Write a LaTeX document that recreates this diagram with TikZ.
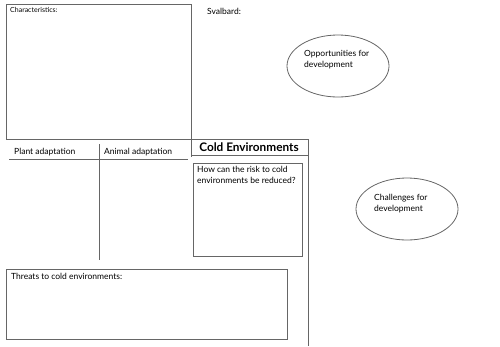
\documentclass[tikz,border=0pt]{standalone}
\usepackage{fontspec}
\setmainfont{Lato}
\usetikzlibrary{shapes.geometric}
\definecolor{linegray}{HTML}{666666}
\begin{document}
\begin{tikzpicture}[x=1pt,y=-1pt,
  frame/.style={draw=linegray,line width=0.9pt},
  lbl/.style={inner sep=0pt,anchor=north west,text=black,font=\fontsize{8.5}{10.5}\selectfont,align=left},
  oval/.style={ellipse,draw=linegray,line width=0.8pt,minimum width=102pt,minimum height=62pt,inner sep=0pt}]
\useasboundingbox (0,0) rectangle (500,346);
% characteristics box
\draw[frame] (6,4) rectangle (191,139);
\node[lbl,font=\fontsize{7}{8}\selectfont] (char) at (10,7.5) {Characteristics:};
\node[lbl] (sval) at (207,8.5) {Svalbard:};
% title box
\draw[frame] (191,139) -- (191,157);
\draw[frame] (191,139.5) -- (308,139.5) -- (308,346);
\draw[frame] (192,155.5) -- (308,155.5);
\node[inner sep=0pt,font=\bfseries\fontsize{11.8}{13}\selectfont] (title) at (249,147.5) {Cold Environments};
% adaptation
\node[lbl] (plant) at (14,148.5) {Plant adaptation};
\node[lbl] (animal) at (104,148.5) {Animal adaptation};
\draw[frame] (9,159.5) -- (188,159.5);
\draw[frame] (99,144) -- (99,260);
% question box
\draw[frame] (193,163) rectangle (302,256);
\node[lbl] (quest) at (197,166.5) {How can the risk to cold\\environments be reduced?};
% threats box
\draw[frame] (6,269) rectangle (287,339);
\node[lbl] (threat) at (11,273.5) {Threats to cold environments:};
% ellipses
\node[oval] (opp) at (338,66) {};
\node[lbl] (opptext) at (304,50.5) {Opportunities for\\development};
\node[oval] (chal) at (407,209) {};
\node[lbl] (chaltext) at (374,194.5) {Challenges for\\development};
\end{tikzpicture}
\end{document}
